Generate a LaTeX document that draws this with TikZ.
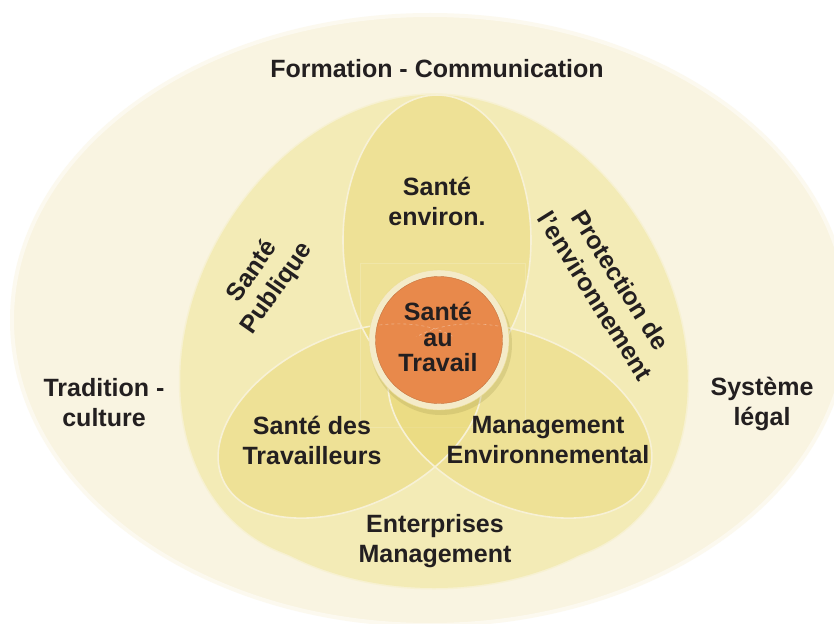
\documentclass[tikz,border=0pt]{standalone}
\usepackage{fontspec}
\setmainfont{Liberation Sans}
\definecolor{cream}{HTML}{F9F4E1}
\definecolor{creamedge}{HTML}{FCF9EF}
\definecolor{egg}{HTML}{F3EBB6}
\definecolor{eggedge}{HTML}{F7F1D2}
\definecolor{lobe}{HTML}{E8D670}
\definecolor{lobeedge}{HTML}{F7F1D6}
\definecolor{ring}{HTML}{F4EBC9}
\definecolor{core}{HTML}{E8894B}
\definecolor{ink}{HTML}{231F20}
\begin{document}
\begin{tikzpicture}[x=1pt, y=-1pt,
  lbl/.style={font=\bfseries\fontsize{25}{30}\selectfont, text=ink, align=center, inner sep=0pt},
  lobefill/.style={fill=lobe, fill opacity=.45},
  lobeline/.style={draw=lobeedge, line width=1.6pt}]
  \useasboundingbox (0,0) rectangle (834,623);
  \clip (0,0) rectangle (834,623);
  \fill [white] (0,0) rectangle (834,623);
  % outer ellipse
  \filldraw [fill=cream, draw=creamedge, line width=4pt] (430,320) ellipse [x radius=418pt, y radius=305pt];
  % middle shape (three big ellipses)
  \begin{scope}[draw=eggedge, line width=3pt]
    \draw [rotate around={60:(386,329)}] (386,329) ellipse [x radius=247pt, y radius=190pt];
    \draw [rotate around={-60:(482,329)}] (482,329) ellipse [x radius=247pt, y radius=190pt];
    \draw (434,418) ellipse [x radius=245pt, y radius=170pt];
  \end{scope}
  \begin{scope}[fill=egg]
    \fill [rotate around={60:(386,329)}] (386,329) ellipse [x radius=247pt, y radius=190pt];
    \fill [rotate around={-60:(482,329)}] (482,329) ellipse [x radius=247pt, y radius=190pt];
    \fill (434,418) ellipse [x radius=245pt, y radius=170pt];
  \end{scope}
  \draw [white, opacity=.45, line width=.6pt] (360,263) rectangle (525,427);
  % small lobes
  \fill [lobefill] (437,240) ellipse [x radius=94pt, y radius=145pt];
  \fill [lobefill, rotate around={25:(350,421)}] (350,421) ellipse [x radius=140pt, y radius=85pt];
  \fill [lobefill, rotate around={-25:(520,421)}] (520,421) ellipse [x radius=140pt, y radius=85pt];
  \draw [lobeline] (437,240) ellipse [x radius=94pt, y radius=145pt];
  \draw [lobeline, rotate around={25:(350,421)}] (350,421) ellipse [x radius=140pt, y radius=85pt];
  \draw [lobeline, rotate around={-25:(520,421)}] (520,421) ellipse [x radius=140pt, y radius=85pt];
  % centre
  \fill [lobe!70!black, opacity=.25] (441,344) circle [radius=71pt];
  \filldraw [fill=ring, draw=lobe!60!ring] (439,340) circle [radius=70pt];
  \node [circle, fill=core, draw=core!85!black, line width=.4pt, minimum size=127pt, inner sep=0pt] (core) at (439,340) {};
  \begin{scope}
    \clip (439,340) circle [radius=63pt];
    \clip (370,300) rectangle (510,336);
    \draw [white, opacity=.35, dashed, line width=.6pt, rotate around={25:(350,421)}] (350,421) ellipse [x radius=140pt, y radius=85pt];
    \draw [white, opacity=.35, dashed, line width=.6pt, rotate around={-25:(520,421)}] (520,421) ellipse [x radius=140pt, y radius=85pt];
  \end{scope}
  % labels
  \node [lbl, font=\bfseries\fontsize{25}{25.5}\selectfont] (travail) at (438,337) {Santé\\au\\Travail};
  \node [lbl] (formation) at (437,69) {Formation - Communication};
  \node [lbl] (environ) at (437,201) {Santé\\environ.};
  \node [lbl, rotate=55] (publique) at (265,280) {Santé\\Publique};
  \node [lbl, rotate=-58] (protection) at (608,288) {Protection de\\l'environnement};
  \node [lbl] (tradition) at (104,403) {Tradition -\\culture};
  \node [lbl] (systeme) at (762,404) {Système\\légal};
  \node [lbl] (travailleurs) at (312,440) {Santé des\\Travailleurs};
  \node [lbl] (mgmtenv) at (548,440) {Management\\Environnemental};
  \node [lbl] (enterprises) at (435,541) {Enterprises\\Management};
\end{tikzpicture}
\end{document}
